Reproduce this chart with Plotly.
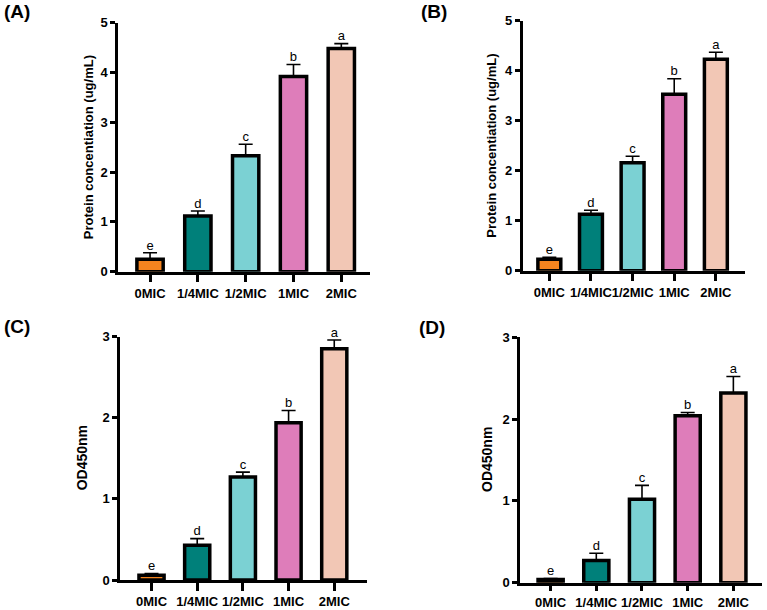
import plotly.graph_objects as go

categories = ["0MIC", "1/4MIC", "1/2MIC", "1MIC", "2MIC"]
letters = ["e", "d", "c", "b", "a"]

a_vals = [0.25, 1.12, 2.33, 3.92, 4.48]
a_err = [0.13, 0.10, 0.23, 0.24, 0.10]
b_vals = [0.23, 1.13, 2.16, 3.53, 4.23]
b_err = [0.04, 0.08, 0.13, 0.31, 0.14]
c_vals = [0.06, 0.43, 1.27, 1.94, 2.85]
c_err = [0.02, 0.08, 0.06, 0.15, 0.11]
d_vals = [0.04, 0.27, 1.02, 2.04, 2.32]
d_err = [0.01, 0.09, 0.17, 0.04, 0.20]

colors = ["#F5841F", "#00807A", "#7BD1D3", "#DE7DBA", "#F2C7B5"]

W, H = 767, 610

panels = [
    dict(vals=a_vals, err=a_err, x0=118, x1=370, yb=271.7, yt=22.7, ymax=5, xr=[-0.67, 4.6],
         title="Protein concentiation (ug/mL)", tsize=13, tx=88, label="(A)", lx=17, ly=12, tl=8),
    dict(vals=b_vals, err=b_err, x0=522.7, x1=745, yb=270.7, yt=20.7, ymax=5, xr=[-0.64, 4.7],
         title="Protein concentiation (ug/mL)", tsize=13, tx=492, label="(B)", lx=434, ly=12, tl=8),
    dict(vals=c_vals, err=c_err, x0=120, x1=366.7, yb=580, yt=336.7, ymax=3, xr=[-0.69, 4.71],
         title="OD450nm", tsize=14, tx=82, label="(C)", lx=17, ly=326, tl=8),
    dict(vals=d_vals, err=d_err, x0=520, x1=761.7, yb=582.7, yt=337.3, ymax=3, xr=[-0.67, 4.62],
         title="OD450nm", tsize=14, tx=487, label="(D)", lx=432, ly=327, tl=6),
]

fig = go.Figure()
annotations = []
FONT = "Liberation Sans, Arial, sans-serif"

for i, p in enumerate(panels, start=1):
    xa = "x" if i == 1 else f"x{i}"
    ya = "y" if i == 1 else f"y{i}"
    fig.add_trace(go.Bar(
        x=categories, y=p["vals"], xaxis=xa, yaxis=ya, width=0.55,
        marker=dict(color=colors, line=dict(color="black", width=3.5)),
        error_y=dict(type="data", array=p["err"], arrayminus=[0] * 5, symmetric=False,
                     color="black", thickness=1.6, width=7),
        showlegend=False,
    ))
    tops = [v + e for v, e in zip(p["vals"], p["err"])]
    fig.add_trace(go.Scatter(
        x=categories, y=tops, xaxis=xa, yaxis=ya, mode="text", text=letters,
        textposition="top center", textfont=dict(size=13, color="black", family=FONT),
        showlegend=False, hoverinfo="skip", cliponaxis=False,
    ))
    xdom = [p["x0"] / W, p["x1"] / W]
    ydom = [1 - p["yb"] / H, 1 - p["yt"] / H]
    xkey = "xaxis" if i == 1 else f"xaxis{i}"
    ykey = "yaxis" if i == 1 else f"yaxis{i}"
    fig.update_layout({
        xkey: dict(domain=xdom, anchor=ya, range=p["xr"], showline=True, linewidth=2.5,
                   linecolor="black", ticks="outside", ticklen=p["tl"], tickwidth=2.5,
                   tickcolor="black", showgrid=False, zeroline=False, tickangle=0,
                   automargin=False,
                   tickfont=dict(size=13, family=FONT, color="black", weight="bold")),
        ykey: dict(domain=ydom, anchor=xa, range=[0, p["ymax"]], showline=True, linewidth=2.5,
                   linecolor="black", ticks="outside", ticklen=5, tickwidth=2.5,
                   tickcolor="black", showgrid=False, zeroline=False, dtick=1,
                   automargin=False,
                   tickfont=dict(size=13, family=FONT, color="black", weight="bold")),
    })
    ymid = (p["yb"] + p["yt"]) / 2
    annotations.append(dict(
        x=p["tx"] / W, y=1 - ymid / H, xref="paper", yref="paper", text=p["title"],
        textangle=-90, showarrow=False, xanchor="center", yanchor="middle",
        font=dict(size=p["tsize"], family=FONT, color="black", weight="bold"),
    ))
    annotations.append(dict(
        x=p["lx"] / W, y=1 - p["ly"] / H, xref="paper", yref="paper", text=p["label"],
        showarrow=False, xanchor="center", yanchor="middle",
        font=dict(size=19, family=FONT, color="black", weight="bold"),
    ))

fig.update_layout(
    width=W, height=H, margin=dict(l=0, r=0, t=0, b=0),
    paper_bgcolor="white", plot_bgcolor="white",
    annotations=annotations, bargap=0.4,
)

fig.write_html(
    "out.html",
    config={"displayModeBar": False},
    post_script="document.body.style.margin='0';document.body.style.overflow='hidden';",
)
